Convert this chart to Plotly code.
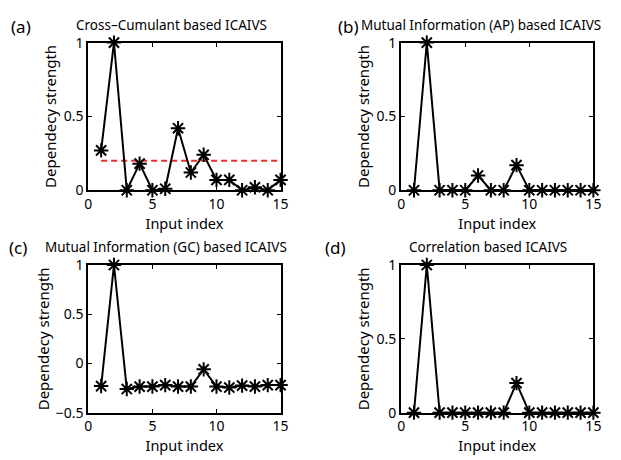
import plotly.graph_objects as go

x_index = list(range(1, 16))
cross_cumulant = [0.27, 1.0, 0.0, 0.18, 0.0, 0.01, 0.42, 0.12, 0.24, 0.07, 0.07, 0.0, 0.02, 0.0, 0.07]
mi_ap = [0, 1.0, 0, 0, 0, 0.10, 0, 0, 0.17, 0, 0, 0, 0, 0, 0]
mi_gc = [-0.23, 1.0, -0.26, -0.235, -0.235, -0.22, -0.235, -0.235, -0.06, -0.235, -0.245, -0.225, -0.235, -0.22, -0.22]
correlation = [0, 1.0, 0, 0, 0, 0, 0, 0, 0.2, 0, 0, 0, 0, 0, 0]
threshold_x = [1, 15]
threshold_y = [0.2, 0.2]

titles = ["Cross\u2013Cumulant based ICAIVS", "Mutual Information (AP) based ICAIVS",
          "Mutual Information (GC) based ICAIVS", "Correlation based ICAIVS"]
panel_labels = ["(a)", "(b)", "(c)", "(d)"]
series = [cross_cumulant, mi_ap, mi_gc, correlation]

W, H = 621, 460
FONT = "Noto Sans"

def fx(px):
    return px / W

def fy(py):
    return 1 - py / H

boxes = [  # left, right, top, bottom in px
    (86, 282, 34, 188),
    (405, 601, 34, 188),
    (86, 282, 266, 420),
    (405, 601, 266, 420),
]
yranges = [[0, 1], [0, 1], [-0.5, 1], [0, 1]]
yticks = [[0, 0.5, 1], [0, 0.5, 1], [-0.5, 0, 0.5, 1], [0, 0.5, 1]]
ytext = [["0", "0.5", "1"], ["0", "0.5", "1"], ["\u22120.5", "0", "0.5", "1"], ["0", "0.5", "1"]]

fig = go.Figure()
layout = dict(width=W, height=H, margin=dict(l=0, r=0, t=0, b=0),
              paper_bgcolor="white", plot_bgcolor="white", showlegend=False,
              font=dict(family=FONT, color="black", size=14))
annotations = []

for i in range(4):
    ax = "" if i == 0 else str(i + 1)
    l, r, t, b = boxes[i]
    axis_common = dict(showline=True, linecolor="black", linewidth=2, mirror="ticks",
                       ticks="inside", ticklen=4, tickwidth=1, tickcolor="black",
                       showgrid=False, zeroline=False, tickfont=dict(size=14, family=FONT))
    layout["xaxis" + ax] = dict(domain=[fx(l), fx(r)], range=[0, 15], tickvals=[0, 5, 10, 15],
                                anchor="y" + ax,
                                title=dict(text="Input index", standoff=1, font=dict(size=14.5)),
                                **axis_common)
    layout["yaxis" + ax] = dict(domain=[fy(b), fy(t)], range=yranges[i], tickvals=yticks[i],
                                ticktext=ytext[i], anchor="x" + ax,
                                title=dict(text="Dependecy strength", standoff=3, font=dict(size=15)),
                                **axis_common)
    if i == 0:
        fig.add_trace(go.Scatter(x=threshold_x, y=threshold_y, mode="lines",
                                 line=dict(color="#e8302a", width=2, dash="6px,4px"),
                                 xaxis="x" + ax, yaxis="y" + ax, cliponaxis=False))
    fig.add_trace(go.Scatter(x=x_index, y=series[i], mode="lines+markers",
                             line=dict(color="black", width=2),
                             marker=dict(symbol="asterisk-open", size=12, color="black",
                                         line=dict(width=2, color="black")),
                             xaxis="x" + ax, yaxis="y" + ax, cliponaxis=False))

# (x px, y px, anchor)
title_pos = [(171, 16, "center"), (362, 16, "left"), (40, 247, "left"), (494, 247, "center")]
label_pos = [(17, 17), (351, 17), (14, 248), (338, 248)]
for i in range(4):
    tx, ty, anc = title_pos[i]
    annotations.append(dict(text=titles[i], x=fx(tx), y=fy(ty), xref="paper", yref="paper",
                            showarrow=False, xanchor=anc, yanchor="middle",
                            font=dict(size=13.5, family=FONT)))
    lx, ly = label_pos[i]
    annotations.append(dict(text=panel_labels[i], x=fx(lx), y=fy(ly), xref="paper", yref="paper",
                            showarrow=False, xanchor="center", yanchor="middle",
                            font=dict(size=17, family=FONT)))
layout["annotations"] = annotations
fig.update_layout(**layout)
fig.write_html("out.html")
